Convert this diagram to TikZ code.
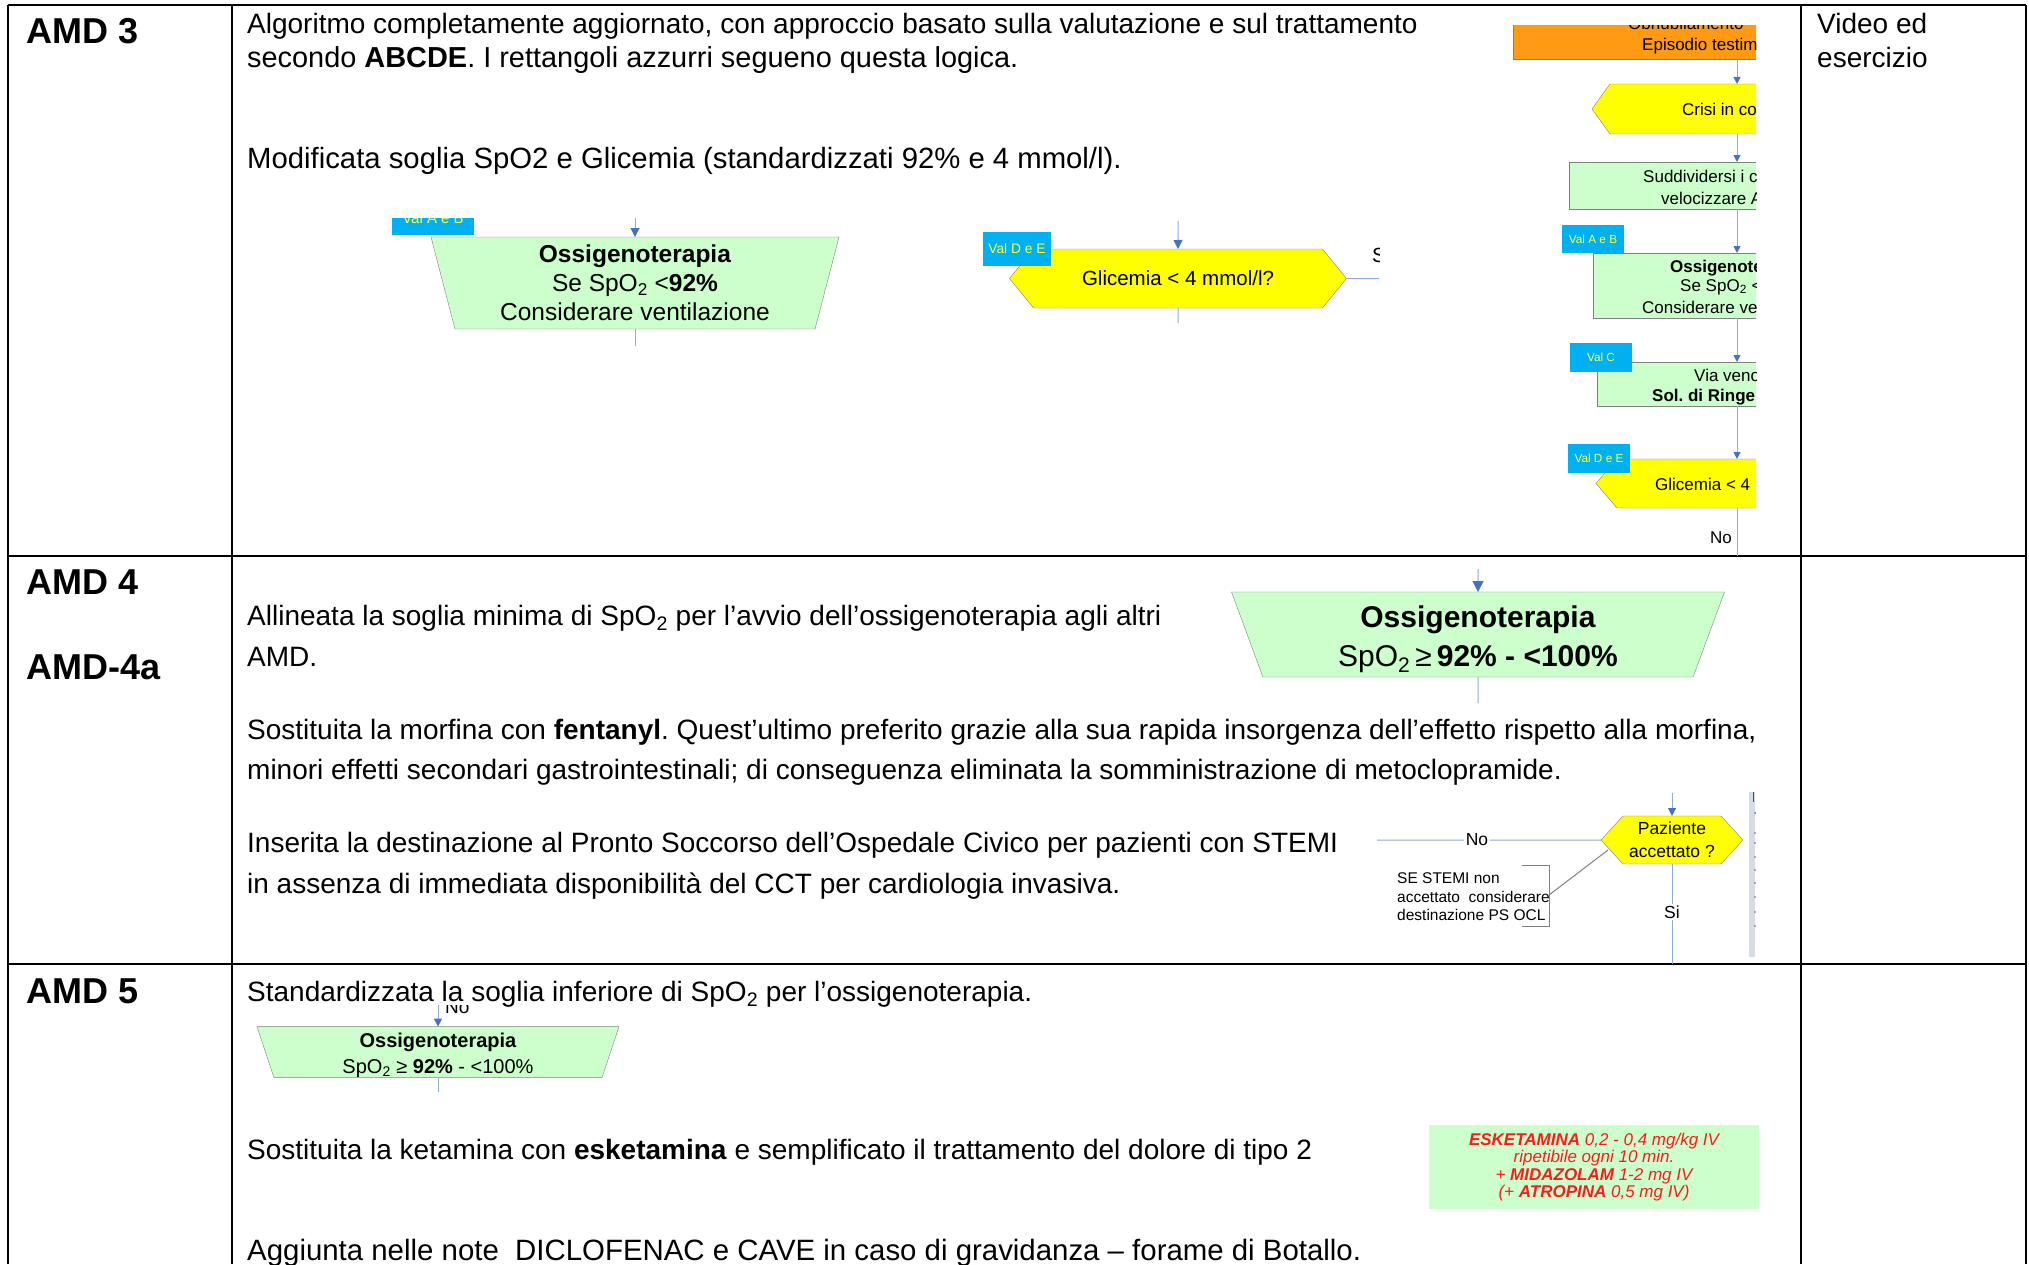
\documentclass[tikz,border=0pt]{standalone}
\usepackage{fontspec}
\setmainfont{Liberation Sans}
\frenchspacing
\usetikzlibrary{shapes.geometric,shapes.symbols,arrows.meta}
\definecolor{boxgreen}{HTML}{CCFFCC}
\definecolor{boxedge}{HTML}{808080}
\definecolor{hexyellow}{HTML}{FFFF00}
\definecolor{valblue}{HTML}{00B0F0}
\definecolor{valtext}{HTML}{FFFF33}
\definecolor{orangebox}{HTML}{FF9A14}
\definecolor{linkline}{HTML}{8EA9DB}
\definecolor{linktip}{HTML}{4472C4}
\definecolor{dosered}{HTML}{FF1A1A}
\definecolor{barblue}{HTML}{D6DCE5}

\begin{document}
\begin{tikzpicture}[x=1pt,y=-1pt,
        tablerule/.style={line width=2pt},
        head/.style={font=\fontsize{36}{40}\selectfont\bfseries, anchor=base west, inner sep=0pt},
        body/.style={font=\fontsize{28}{34}\selectfont, anchor=base west, inner sep=0pt},
        flowtext/.style={font=\fontsize{17}{20}\selectfont, anchor=base west, inner sep=0pt},
        greenbox/.style={trapezium, shape border rotate=180, trapezium stretches body,
            fill=boxgreen, draw=boxedge, align=center, inner sep=0pt, outer sep=0pt},
        yellowhex/.style={signal, signal to=west and east, fill=hexyellow, draw=boxedge,
            align=center, inner sep=0pt, outer sep=0pt},
        vallabel/.style={fill=valblue, text=valtext, inner sep=0pt, outer sep=0pt},
        link/.style={draw=linkline, line width=1pt},
        flow/.style={link, -{Triangle[color=linktip, width=#1, length=#1]}},
        flow/.default=8pt,
        noteline/.style={draw=boxedge, line width=1pt}]
    \useasboundingbox (0,0) rectangle (2029,1264);

    \draw[tablerule] (8,5) -- (2026,5) (8,556) -- (2026,556) (8,964) -- (2026,964);
    \draw[tablerule] (8,5) -- (8,1264) (232,5) -- (232,1264) (1801,5) -- (1801,1264) (2026,5) -- (2026,1264);

    \node[head] (head3) at (26,43) {AMD 3};
    \node[head] (head4) at (26,594) {AMD 4};
    \node[head] (head4a) at (26,679) {AMD-4a};
    \node[head] (head5) at (26,1003) {AMD 5};

    \node[body] (video1) at (1817,33) {Video ed};
    \node[body] (video2) at (1817,67) {esercizio};

    \node[body] (alg1) at (247,33) {Algoritmo completamente aggiornato, con approccio basato sulla valutazione e sul trattamento};
    \node[body, font=\fontsize{28.9}{34}\selectfont] (alg2) at (247,67) {secondo \textbf{ABCDE}. I rettangoli azzurri segueno questa logica.};
    \node[body, font=\fontsize{29.3}{34}\selectfont] (soglia) at (247,168) {Modificata soglia SpO2 e Glicemia (standardizzati 92\% e 4 mmol/l).};

    \node[body] (alli1) at (247,625) {Allineata la soglia minima di SpO\textsubscript{2} per l’avvio dell’ossigenoterapia agli altri};
    \node[body] (alli2) at (247,666) {AMD.};
    \node[body] (fent1) at (247,739) {Sostituita la morfina con \textbf{fentanyl}. Quest’ultimo preferito grazie alla sua rapida insorgenza dell’effetto rispetto alla morfina,};
    \node[body] (fent2) at (247,779) {minori effetti secondari gastrointestinali; di conseguenza eliminata la somministrazione di metoclopramide.};
    \node[body] (stemi1) at (247,852) {Inserita la destinazione al Pronto Soccorso dell’Ospedale Civico per pazienti con STEMI};
    \node[body] (stemi2) at (247,893) {in assenza di immediata disponibilità del CCT per cardiologia invasiva.};

    \node[body] (std) at (247,1001) {Standardizzata la soglia inferiore di SpO\textsubscript{2} per l’ossigenoterapia.};
    \node[body] (keta) at (247,1159) {Sostituita la ketamina con \textbf{esketamina} e semplificato il trattamento del dolore di tipo 2};
    \node[body, font=\fontsize{29.4}{34}\selectfont] (diclo) at (247,1260) {Aggiunta nelle note\ \ DICLOFENAC e CAVE in caso di gravidanza – forame di Botallo.};

    \begin{scope}
        \clip (380,218) rectangle (900,350);
        \node[greenbox, trapezium left angle=72.5, trapezium right angle=72.5,
            minimum width=408pt, minimum height=92pt, font=\fontsize{24.5}{29}\selectfont]
            (ossi3) at (635,283) {\textbf{Ossigenoterapia}\\Se SpO\textsubscript{2} <\textbf{92\%}\\Considerare ventilazione};
        \coordinate (ossi3in) at (635,218);
        \coordinate (ossi3out) at (635,346);
        \draw[flow=9pt] (ossi3in) -- (ossi3);
        \draw[link] (ossi3) -- (ossi3out);
        \node[vallabel, minimum width=82pt, minimum height=34pt, font=\fontsize{15}{15}\selectfont]
            (val3ab) at (433,218) {Val A e B};
    \end{scope}

    \begin{scope}
        \clip (975,215) rectangle (1379,330);
        \node[yellowhex, minimum width=337pt, minimum height=59pt, signal pointer angle=101.7,
            font=\fontsize{20.5}{24}\selectfont]
            (glic3) at (1178,278.5) {Glicemia < 4 mmol/l?};
        \coordinate (glic3in) at (1178,221);
        \coordinate (glic3out) at (1178,323);
        \coordinate (glic3si) at (1379,278.5);
        \draw[flow=9pt] (glic3in) -- (glic3);
        \draw[link] (glic3) -- (glic3out);
        \draw[link] (glic3) -- (glic3si);
        \node[flowtext, font=\fontsize{20.5}{24}\selectfont] (si3) at (1372,262) {Si};
        \node[vallabel, minimum width=68pt, minimum height=34pt, font=\fontsize{13.8}{14}\selectfont]
            (val3de) at (1017,249) {Val D e E};
    \end{scope}

    \begin{scope}
        \clip (1500,25) rectangle (1756,556);
        \node[draw=boxedge, fill=orangebox, minimum width=448pt, minimum height=49pt] (obnub) at (1737,34.5) {};
        \node[yellowhex, minimum width=290pt, minimum height=50pt, signal pointer angle=108.5] (crisi) at (1737,109) {};
        \node[greenbox, trapezium left angle=67, trapezium right angle=67,
            minimum width=336pt, minimum height=47pt] (suddiv) at (1737,185.5) {};
        \node[greenbox, trapezium left angle=73, trapezium right angle=73,
            minimum width=288pt, minimum height=65pt] (ossiR) at (1737,285.5) {};
        \node[greenbox, trapezium left angle=70, trapezium right angle=70,
            minimum width=280pt, minimum height=44pt] (viaven) at (1737,384) {};
        \node[yellowhex, minimum width=282pt, minimum height=49pt, signal pointer angle=98.8] (glicR) at (1737,483.5) {};
        \coordinate (glicRout) at (1737,556);
        \draw[flow=7pt] (obnub) -- (crisi);
        \draw[flow=7pt] (crisi) -- (suddiv);
        \draw[flow=7pt] (suddiv) -- (ossiR);
        \draw[flow=7pt] (ossiR) -- (viaven);
        \draw[flow=7pt] (viaven) -- (glicR);
        \draw[link] (glicR) -- (glicRout);

        \node[flowtext] (obnubtxt1) at (1628,29.5) {Obnubilamento};
        \node[flowtext] (obnubtxt2) at (1642,50) {Episodio testim};
        \node[flowtext] (crisitxt) at (1682,115) {Crisi in co};
        \node[flowtext] (suddivtxt1) at (1643,182) {Suddividersi i c};
        \node[flowtext] (suddivtxt2) at (1661,204) {velocizzare A};
        \node[flowtext, font=\fontsize{17}{20}\selectfont\bfseries] (ossiRtxt1) at (1670,272) {Ossigenote};
        \node[flowtext] (ossiRtxt2) at (1680,291) {Se SpO\textsubscript{2} <};
        \node[flowtext] (ossiRtxt3) at (1642,313) {Considerare ve};
        \node[flowtext] (viaventxt1) at (1694,381) {Via veno};
        \node[flowtext, font=\fontsize{17}{20}\selectfont\bfseries] (viaventxt2) at (1652,401) {Sol. di Ringe};
        \node[flowtext] (glicRtxt) at (1655,490) {Glicemia < 4};
        \node[flowtext] (noR) at (1710,543) {No};

        \node[vallabel, minimum width=62pt, minimum height=28pt, font=\fontsize{11.8}{12}\selectfont]
            (valRab) at (1593,239) {Val A e B};
        \node[vallabel, minimum width=62pt, minimum height=29pt, font=\fontsize{11.8}{12}\selectfont]
            (valRc) at (1601,357.5) {Val C};
        \node[vallabel, minimum width=62pt, minimum height=29pt, font=\fontsize{11.8}{12}\selectfont]
            (valRde) at (1599,458.5) {Val D e E};
    \end{scope}

    \node[greenbox, trapezium left angle=67.6, trapezium right angle=67.6,
        minimum width=493pt, minimum height=85pt, font=\fontsize{30}{39}\selectfont]
        (ossi4) at (1478,634.5) {\rule{0pt}{31pt}\textbf{Ossigenoterapia}\\SpO\textsubscript{2}\,≥\,\textbf{92\% - <100\%}};
    \coordinate (ossi4in) at (1478,569);
    \coordinate (ossi4out) at (1478,703);
    \draw[flow=11pt] (ossi4in) -- (ossi4);
    \draw[link] (ossi4) -- (ossi4out);

    \begin{scope}
        \clip (1377,790) rectangle (1760,964);
        \node[yellowhex, minimum width=142pt, minimum height=48pt, signal pointer angle=95,
            font=\fontsize{17.5}{23}\selectfont]
            (paz) at (1672,840) {Paziente\\accettato ?};
        \coordinate (pazin) at (1672,793);
        \coordinate (pazout) at (1672,964);
        \coordinate (pazno) at (1377,840);
        \coordinate (pazlink) at (1608,850);
        \draw[flow=8pt] (pazin) -- (paz);
        \draw[link] (paz) -- (pazout);
        \draw[link] (paz) -- (pazno);
        \node[fill=white, inner sep=2pt, font=\fontsize{17.5}{20}\selectfont] (no4) at (1477,840) {No};
        \node[fill=white, inner sep=2pt, font=\fontsize{17.5}{20}\selectfont] (si4) at (1672,912) {Si};
        \node[anchor=north west, align=left, inner sep=0pt, font=\fontsize{15.5}{18.5}\selectfont]
            (note4) at (1397,872.5) {SE STEMI non\\accettato\ \ considerare\\destinazione PS OCL};
        \coordinate (brk1) at (1522,865);
        \coordinate (brk2) at (1549,865);
        \coordinate (brk3) at (1549,926);
        \coordinate (brk4) at (1522,926);
        \coordinate (brkmid) at (1549,895);
        \draw[noteline] (brk1) -- (brk2) -- (brk3) -- (brk4);
        \draw[noteline] (brkmid) -- (pazlink);
        \fill[barblue] (1749,792) rectangle (1755,957);
        \draw[black!70] (1753,792) -- (1753,802);
        \fill[linktip] (1755,813) circle (1);
        \foreach \y in {833,843,857,870,883,897,912,926}
            \fill[black!60] (1755,\y) circle (0.8);
    \end{scope}

    \begin{scope}
        \clip (240,1005) rectangle (640,1095);
        \node[greenbox, trapezium left angle=71.6, trapezium right angle=71.6,
            minimum width=362pt, minimum height=48pt, font=\fontsize{20}{26}\selectfont]
            (ossi5) at (438,1052) {\rule{0pt}{20.7pt}\textbf{Ossigenoterapia}\\SpO\textsubscript{2} ≥ \textbf{92\%} - <100\%};
        \coordinate (ossi5in) at (438,1005);
        \coordinate (ossi5out) at (438,1092);
        \draw[flow=8pt] (ossi5in) -- (ossi5);
        \draw[link] (ossi5) -- (ossi5out);
        \node[flowtext, font=\fontsize{19}{22}\selectfont] (no5) at (445,1013) {No};
    \end{scope}

    \node[fill=boxgreen, text=dosered, align=center, inner sep=0pt, minimum width=330pt, minimum height=84pt,
        font=\fontsize{17}{17.6}\selectfont\itshape]
        (dose) at (1594,1167) {\textbf{ESKETAMINA} 0,2 - 0,4 mg/kg IV\\ripetibile ogni 10 min.\\+ \textbf{MIDAZOLAM} 1-2 mg IV\\(+ \textbf{ATROPINA} 0,5 mg IV)};
\end{tikzpicture}
\end{document}
